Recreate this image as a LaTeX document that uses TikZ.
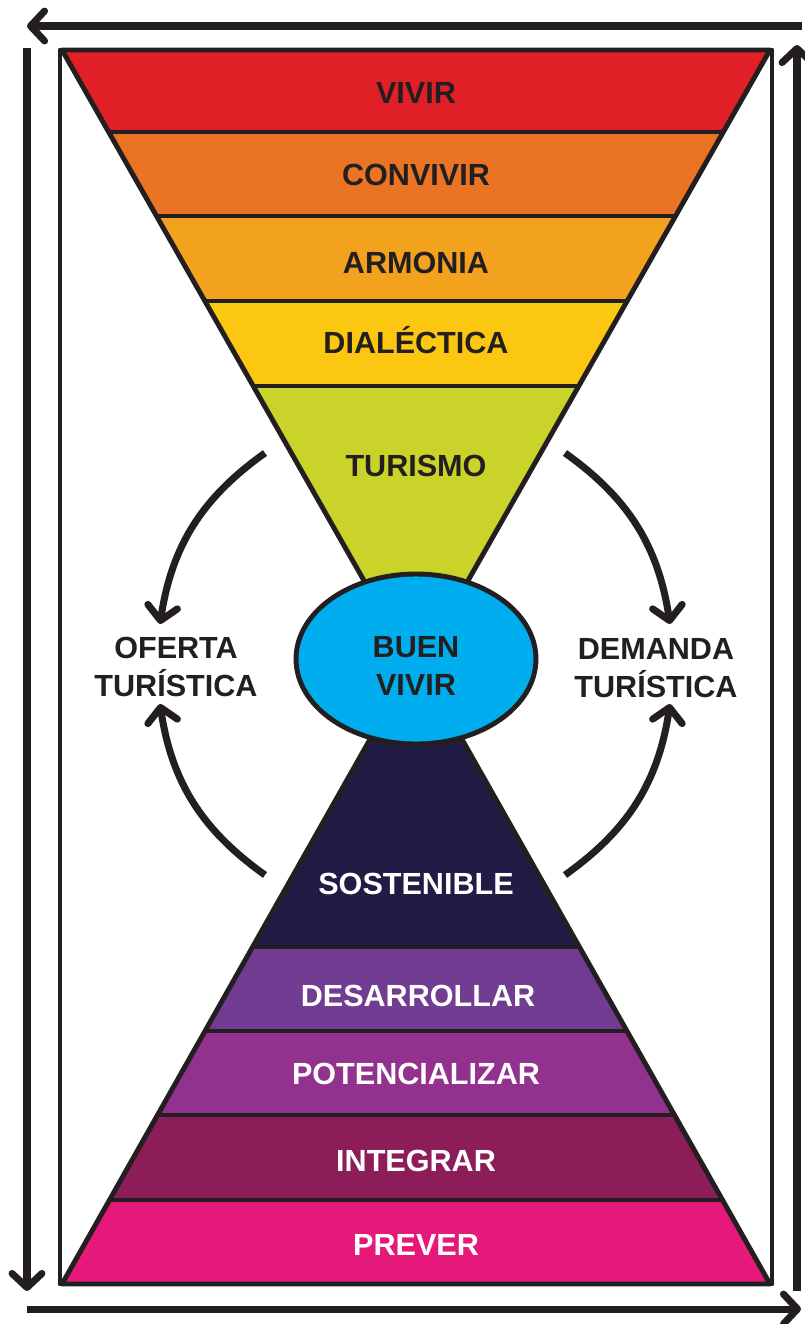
\documentclass[tikz,border=0pt]{standalone}
\usepackage{fontspec}
\setmainfont{Liberation Sans}
\usetikzlibrary{arrows.meta,shapes.geometric}

\definecolor{darktxt}{HTML}{231F20}
\definecolor{cVivir}{HTML}{E01F26}
\definecolor{cConvivir}{HTML}{EA7424}
\definecolor{cArmonia}{HTML}{F3A21E}
\definecolor{cDialectica}{HTML}{FCC711}
\definecolor{cTurismo}{HTML}{C9D32A}
\definecolor{cBuen}{HTML}{00AEEF}
\definecolor{cSostenible}{HTML}{211C45}
\definecolor{cDesarrollar}{HTML}{713C91}
\definecolor{cPotencializar}{HTML}{92318E}
\definecolor{cIntegrar}{HTML}{8C1D59}
\definecolor{cPrever}{HTML}{E4197A}

\begin{document}
\begin{tikzpicture}[x=0.02cm,y=-0.02cm,
  lbl/.style={font=\fontsize{17.4}{21.5}\selectfont\bfseries,text=darktxt,align=center,inner sep=0pt,anchor=base},
  wlbl/.style={lbl,text=white},
  edge/.style={line width=2.8pt,draw=darktxt,line join=round},
  arr/.style={line width=4pt,draw=darktxt,-{Straight Barb[length=8pt,width=17pt,round]}}]
  \useasboundingbox (0,0) rectangle (804,1324);
  \fill[white] (0,0) rectangle (804,1324);
  % corners of the frame and tips of the two triangles
  \coordinate (TL) at (62,50);
  \coordinate (TR) at (770,50);
  \coordinate (BL) at (62,1284);
  \coordinate (BR) at (770,1284);
  \coordinate (topapex) at (416,672);
  \coordinate (botapex) at (416,658);
  % outer arrows
  \coordinate (a1) at (802,26);
  \coordinate (a2) at (27,26);
  \coordinate (a3) at (27,48);
  \coordinate (a4) at (27,1291);
  \coordinate (a5) at (27,1309);
  \coordinate (a6) at (801,1309);
  \coordinate (a7) at (797,1291);
  \coordinate (a8) at (797,45);
  \draw[arr] (a1) -- (a2);
  \draw[arr] (a3) -- (a4);
  \draw[arr] (a5) -- (a6);
  \draw[arr] (a7) -- (a8);
  \draw[edge] (60,50) rectangle (772,1284);
  % upper funnel
  \begin{scope}
    \clip (TL) -- (TR) -- (topapex) -- cycle;
    \fill[cVivir]      (0,50)  rectangle (804,132);
    \fill[cConvivir]   (0,132) rectangle (804,216);
    \fill[cArmonia]    (0,216) rectangle (804,301);
    \fill[cDialectica] (0,301) rectangle (804,386);
    \fill[cTurismo]    (0,386) rectangle (804,700);
    \foreach \y in {132,216,301,386}
      \draw[edge] (0,\y) -- (804,\y);
  \end{scope}
  \draw[edge] (TL) -- (TR) -- (topapex) -- cycle;
  % lower pyramid
  \begin{scope}
    \clip (BL) -- (BR) -- (botapex) -- cycle;
    \fill[cSostenible]    (0,620)  rectangle (804,947);
    \fill[cDesarrollar]   (0,947)  rectangle (804,1031);
    \fill[cPotencializar] (0,1031) rectangle (804,1115);
    \fill[cIntegrar]      (0,1115) rectangle (804,1200);
    \fill[cPrever]        (0,1200) rectangle (804,1284);
    \foreach \y in {947,1031,1115,1200}
      \draw[edge] (0,\y) -- (804,\y);
  \end{scope}
  \draw[edge] (BL) -- (BR) -- (botapex) -- cycle;
  \node[ellipse,draw=darktxt,line width=2.8pt,fill=cBuen,minimum width=4.8cm,minimum height=3.4cm] (bv) at (416,659) {};
  \node[lbl] (buen) at (416,695) {BUEN\\VIVIR};
  \node[lbl] (vivir)      at (416,104) {VIVIR};
  \node[lbl] (convivir)   at (416,186) {CONVIVIR};
  \node[lbl] (armonia)    at (416,274) {ARMONIA};
  \node[lbl] (dialectica) at (416,353) {DIALÉCTICA};
  \node[lbl] (turismo)    at (416,476) {TURISMO};
  \node[wlbl] (sostenible)    at (416,894)  {SOSTENIBLE};
  \node[wlbl] (desarrollar)   at (418,1006) {DESARROLLAR};
  \node[wlbl] (potencializar) at (416,1084) {POTENCIALIZAR};
  \node[wlbl] (integrar)      at (416,1171) {INTEGRAR};
  \node[wlbl] (prever)        at (416,1255) {PREVER};
  \node[lbl] (oferta)  at (176,696) {OFERTA\\TURÍSTICA};
  \node[lbl] (demanda) at (656,697) {DEMANDA\\TURÍSTICA};
  % curved arrows round the centre
  \coordinate (o1) at (265,453);
  \coordinate (o2) at (160,624);
  \coordinate (o3) at (265,875);
  \coordinate (o4) at (160,704);
  \coordinate (d1) at (565,453);
  \coordinate (d2) at (670,624);
  \coordinate (d3) at (565,875);
  \coordinate (d4) at (670,704);
  \draw[arr] (o1) to[bend right=23] (o2);
  \draw[arr] (o3) to[bend left=23] (o4);
  \draw[arr] (d1) to[bend left=23] (d2);
  \draw[arr] (d3) to[bend right=23] (d4);
\end{tikzpicture}
\end{document}
